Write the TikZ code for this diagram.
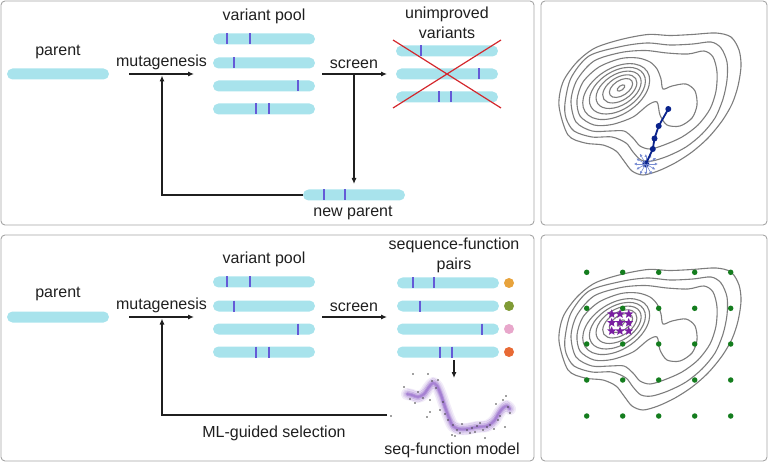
\documentclass[tikz,border=0pt]{standalone}
\usepackage{fontspec}
\setmainfont{Liberation Sans}
\usetikzlibrary{arrows.meta,shapes.geometric,calc}
\definecolor{barcol}{RGB}{168,227,236}
\definecolor{mutcol}{RGB}{100,90,215}
\definecolor{xred}{RGB}{212,40,45}
\definecolor{framecol}{RGB}{165,165,165}
\definecolor{contcol}{RGB}{125,125,125}
\definecolor{pathcol}{RGB}{10,35,140}
\definecolor{nbcol}{RGB}{120,140,210}
\definecolor{dotgreen}{RGB}{20,125,30}
\definecolor{starcol}{RGB}{122,30,162}
\definecolor{gpcol}{RGB}{145,100,200}
\definecolor{fcA}{RGB}{232,163,60}
\definecolor{fcB}{RGB}{128,155,54}
\definecolor{fcC}{RGB}{232,167,203}
\definecolor{fcD}{RGB}{232,106,53}
\newcommand\mutat[2]{\draw[mut] (#1,#2-5.5) -- (#1,#2+5.5);}
\newcommand\landscapecontours{%
  \draw[cont, rotate around={36:(621,88)}] (621,88) ellipse [x radius=4.5, y radius=2.2];
  \foreach \j in {0,...,4} {
    \pgfmathsetmacro\cx{621-1.2*\j}
    \pgfmathsetmacro\cy{88+0.9*\j}
    \pgfmathsetmacro\ra{13+6*\j}
    \pgfmathsetmacro\rb{7.5+3.9*\j}
    \draw[cont, rotate around={33:(\cx,\cy)}] (\cx,\cy) ellipse [x radius=\ra, y radius=\rb];
  }
  \draw[cont] plot[smooth cycle] coordinates {(577,100) (583,82) (599,67) (621,58.5) (638,58) (650,62) (657,69) (661,79) (663,89) (672,86) (686,84) (695,91) (697,105) (692,118) (680,126) (667,125) (660,115) (657,102) (648,105) (633,117) (612,124.5) (594,125) (580,116)};
  \draw[cont] plot[smooth cycle] coordinates {(571,101) (577,80) (594,61) (621,52.5) (645,50.5) (667,53) (688,54) (704,51) (713,57) (717,72) (716,91) (710,109) (698,125) (682,137) (664,145) (650,149) (640,146) (633,138) (624,131) (610,131) (592,131) (576,122)};
  \draw[cont] plot[smooth cycle] coordinates {(565,103) (571,78) (589,56) (621,46.5) (647,43) (670,45) (693,44) (711,42) (721,48) (727,62) (727,80) (723,99) (715,118) (702,134) (686,147) (668,156) (652,161) (641,160) (633,152) (626,143) (612,137) (592,137) (574,131) (566,118)};
  \draw[cont] plot[smooth cycle] coordinates {(559,106) (563,82) (577,62) (595,48) (621,39.5) (648,34.5) (670,35.5) (692,34.5) (716,33) (731,37) (739,50) (741,66) (738,86) (732,104) (722,121) (708,138) (692,152) (675,163) (658,171) (643,175) (632,171) (624,161) (616,151) (603,145) (585,143) (568,135)};
}
\begin{document}
\begin{tikzpicture}[x=1pt,y=-1pt,
  panel/.style={draw=framecol, line width=0.9pt, rounded corners=4pt},
  txt/.style={font=\fontsize{16}{20}\selectfont, text=black!88, inner sep=0pt, align=center},
  seqbar/.style={fill=barcol, rounded corners=5.5pt, minimum width=102pt, minimum height=11pt, inner sep=0pt},
  mut/.style={draw=mutcol, line width=1.4pt},
  arr/.style={-{Latex[length=6pt,width=5pt]}, line width=1.1pt, draw=black!88},
  xline/.style={draw=xred, line width=1.2pt},
  cont/.style={draw=contcol, line width=1.1pt},
  pdot/.style={circle, fill=pathcol, inner sep=0pt, minimum size=6pt},
  nbarr/.style={-{Latex[length=3pt,width=3pt]}, draw=nbcol, line width=0.6pt},
  gdot/.style={circle, fill=dotgreen, inner sep=0pt, minimum size=5.5pt},
  starn/.style={star, star points=5, star point ratio=2.3, fill=starcol, inner sep=0pt, minimum size=9.5pt},
  fdot/.style={circle, inner sep=0pt, minimum size=10pt}]
\useasboundingbox (0,0) rectangle (768,462);
% panels
\draw[panel] (1,1) rectangle (534,225);
\draw[panel] (541,1) rectangle (767,225);
\draw[panel] (1,235) rectangle (534,461);
\draw[panel] (541,235) rectangle (767,461);

% ===== top-left: directed evolution =====
\node[txt] (tparent) at (58,52) {parent};
\node[seqbar] (tp) at (58,74) {};
\node[txt] (tmut) at (161.5,62) {mutagenesis};
\coordinate (tma) at (129,74); \coordinate (tmb) at (194,74);
\draw[arr] (tma) -- (tmb);
\node[txt] (tpool) at (264,16) {variant pool};
\node[seqbar] (tv1) at (264,39) {};
\node[seqbar] (tv2) at (264,63) {};
\node[seqbar] (tv3) at (264,86) {};
\node[seqbar] (tv4) at (264,109) {};
\mutat{227}{39}\mutat{250}{39}
\mutat{234}{63}
\mutat{298}{86}
\mutat{256}{109}\mutat{269}{109}
\node[txt] (tscr) at (354,64) {screen};
\coordinate (tsa) at (322,74); \coordinate (tsb) at (387,74);
\draw[arr] (tsa) -- (tsb);
\node[txt] (tunimp) at (447,23) {unimproved\\variants};
\node[seqbar] (tu1) at (447,51) {};
\node[seqbar] (tu2) at (447,74) {};
\node[seqbar] (tu3) at (447,97) {};
\mutat{421}{51}
\mutat{479}{74}
\mutat{439}{97}\mutat{451}{97}
\coordinate (xa) at (393,40); \coordinate (xb) at (501,108);
\coordinate (xc) at (501,40); \coordinate (xd) at (393,108);
\draw[xline] (xa) -- (xb);
\draw[xline] (xc) -- (xd);
\node[seqbar] (tnp) at (354,195) {};
\mutat{324}{195}\mutat{345}{195}
\coordinate (tdn) at (354,74); \coordinate (tdt) at (354,184);
\draw[arr] (tdn) -- (tdt);
\coordinate (tfc) at (162,195); \coordinate (tfe) at (162,75.5);
\draw[arr] (tnp.west) -- (tfc) -- (tfe);
\node[txt] (tnewp) at (353,213) {new parent};

% ===== bottom-left: ML-guided =====
\node[txt] (bparent) at (58,294) {parent};
\node[seqbar] (bp) at (58,317) {};
\node[txt] (bmut) at (161.5,305) {mutagenesis};
\coordinate (bma) at (129,317); \coordinate (bmb) at (194,317);
\draw[arr] (bma) -- (bmb);
\node[txt] (bpool) at (264,259) {variant pool};
\node[seqbar] (bv1) at (264,282) {};
\node[seqbar] (bv2) at (264,306) {};
\node[seqbar] (bv3) at (264,329) {};
\node[seqbar] (bv4) at (264,352) {};
\mutat{227}{282}\mutat{250}{282}
\mutat{234}{306}
\mutat{298}{329}
\mutat{256}{352}\mutat{269}{352}
\node[txt] (bscr) at (354,307) {screen};
\coordinate (bsa) at (322,317); \coordinate (bsb) at (387,317);
\draw[arr] (bsa) -- (bsb);
\node[txt] (bsfp) at (454,255) {sequence-function\\pairs};
\node[seqbar] (bq1) at (448,283) {};
\node[seqbar] (bq2) at (448,306) {};
\node[seqbar] (bq3) at (448,329) {};
\node[seqbar] (bq4) at (448,352) {};
\mutat{413}{283}\mutat{434}{283}
\mutat{420}{306}
\mutat{482}{329}
\mutat{440}{352}\mutat{452}{352}
\node[fdot, fill=fcA] (bf1) at (509,283) {};
\node[fdot, fill=fcB] (bf2) at (509,306) {};
\node[fdot, fill=fcC] (bf3) at (509,329) {};
\node[fdot, fill=fcD] (bf4) at (509,352) {};
\coordinate (bda) at (454,360); \coordinate (bdb) at (454,378);
\draw[arr] (bda) -- (bdb);
% GP model
\foreach \w/\o in {12/0.12, 9/0.15, 6/0.2, 3.5/0.35, 1.8/0.5} {
  \draw[gpcol, opacity=\o, line width=\w pt, line cap=round, line join=round] plot[smooth] coordinates {(407,394) (412,395) (418,397) (424,394) (429,387) (433,383) (437,386) (441,395) (445,407) (449,418) (453,426) (459,429) (467,429) (477,427) (487,426) (494,421) (499,413) (503,408) (507,406) (510,409)};
}
\foreach \s in {-5,-3,-1.5,1.5,3,5} {
  \draw[gpcol, opacity=0.2, line width=0.6pt, yshift=\s pt] plot[smooth] coordinates {(407,394) (412,395) (418,397) (424,394) (429,387) (433,383) (437,386) (441,395) (445,407) (449,418) (453,426) (459,429) (467,429) (477,427) (487,426) (494,421) (499,413) (503,408) (507,406) (510,409)};
}
\foreach \p in {(413,374),(428,374),(432,381),(410,399),(415,403),(423,398),(430,400),(443,402),(440,410),(430,412),(427,417),(448,420),(453,425),(457,430),(460,433),(452,435),(467,430),(472,428),(477,426),(483,430),(487,427),(490,425),(485,438),(498,420),(503,400),(508,407),(510,413),(505,427),(391,416),(404,387),(418,392),(436,388),(445,414),(462,424),(470,433),(480,423),(494,429),(500,416),(455,436),(475,432),(496,404),(506,396),(438,380)} {
  \fill[black!75] \p circle[radius=0.9];
}
\coordinate (bfa) at (387,415); \coordinate (bfc) at (162,415); \coordinate (bfe) at (162,318.5);
\draw[arr] (bfa) -- (bfc) -- (bfe);
\node[txt] (bml) at (274,433) {ML-guided selection};
\node[txt] (bsfm) at (452,450) {seq-function model};

% ===== top-right landscape =====
\landscapecontours
\foreach \a/\l in {0/12,30/11,60/12,90/11,120/12,150/11,180/12,210/11,240/12,270/10,300/11,330/12} {
  \coordinate (nb\a) at ($(645.8,164)+(\a:\l)$);
}
\node[pdot, minimum size=7pt] (ps) at (645.8,164) {};
\foreach \a in {0,30,...,330} {\draw[nbarr] (ps.center) -- (nb\a);}
\node[pdot] (pa) at (652.8,149) {};
\node[pdot] (pb) at (654.5,138.5) {};
\node[pdot] (pc) at (658.7,126) {};
\node[pdot] (pe) at (668.3,109) {};
\draw[pathcol, line width=1.8pt] (ps.center) -- (pa.center) -- (pb.center) -- (pc.center) -- (pe.center);

% ===== bottom-right landscape =====
\begin{scope}[shift={(0,235)}]
\landscapecontours
\end{scope}
\foreach \i/\x in {1/586.7,2/622.7,3/658.7,4/694.7,5/730.7} {
  \foreach \k/\y in {1/272.3,2/308.3,3/344,4/380,5/416} {
    \node[gdot] (g\i\k) at (\x,\y) {};
  }
}
\foreach \i/\x in {1/611.7,2/620,3/628.7} {
  \foreach \k/\y in {1/314,2/322.7,3/331} {
    \node[starn] (s\i\k) at (\x,\y) {};
  }
}
\end{tikzpicture}
\end{document}
